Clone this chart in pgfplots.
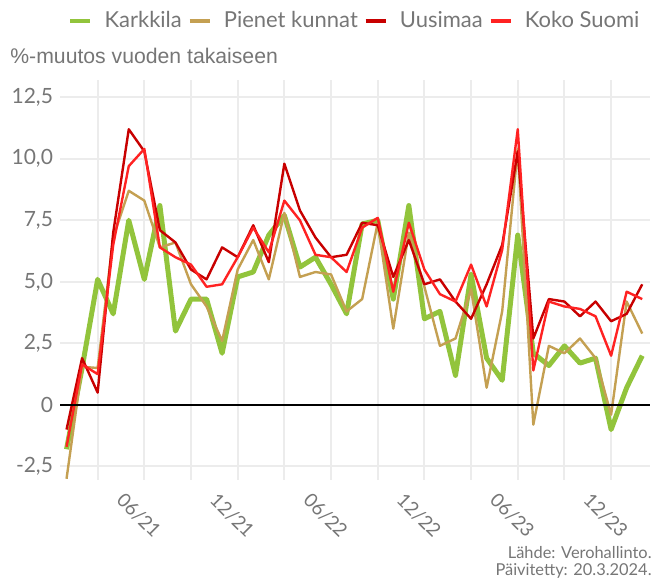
\documentclass[border=0pt]{standalone}
\usepackage{fontspec}
\setmainfont{Lato}
\newfontfamily\titlefont{Liberation Sans}
\usepackage{pgfplots}
\pgfplotsset{compat=1.18}
\usepackage{pgfplotstable}

\definecolor{karkkila}{RGB}{146,196,60}
\definecolor{pienet}{RGB}{196,160,82}
\definecolor{uusimaa}{RGB}{200,0,0}
\definecolor{suomi}{RGB}{255,34,34}
\definecolor{txt}{RGB}{118,118,118}
\definecolor{gridc}{RGB}{236,236,236}

% kuukausi 0 = 01/21, ..., 37 = 02/24
\pgfplotstableread{
i   k     p     u     s
0   -1.8  -3.0  -1.0  -1.7
1   1.5   1.55  1.9   1.65
2   5.1   1.5   0.5   1.25
3   3.7   6.8   7.0   6.5
4   7.5   8.7   11.2  9.7
5   5.1   8.3   10.3  10.4
6   8.1   6.4   7.1   6.4
7   3.0   6.6   6.6   6.0
8   4.3   4.9   5.5   5.7
9   4.3   4.0   5.1   4.8
10  2.1   2.6   6.4   4.9
11  5.2   5.5   6.0   6.0
12  5.4   6.7   7.3   7.2
13  6.9   5.1   5.8   6.2
14  7.7   7.8   9.8   8.3
15  5.6   5.2   7.9   7.5
16  6.0   5.4   6.8   6.1
17  4.9   5.3   6.0   6.0
18  3.7   3.8   6.1   5.4
19  7.35  4.3   7.4   7.2
20  7.5   7.4   7.3   7.6
21  4.3   3.1   5.2   4.6
22  8.1   7.0   6.7   7.4
23  3.5   4.8   4.9   5.5
24  3.8   2.4   5.1   4.5
25  1.2   2.7   4.2   4.2
26  5.3   4.7   3.5   5.7
27  1.9   0.7   4.9   4.0
28  1.0   3.8   6.5   6.3
29  6.9   10.4  10.3  11.2
30  2.1   -0.8  2.7   1.4
31  1.6   2.4   4.3   4.2
32  2.4   2.1   4.2   4.0
33  1.7   2.7   3.6   3.9
34  1.9   1.9   4.2   3.6
35  -1.0  -0.4  3.4   2.0
36  0.7   4.2   3.7   4.6
37  2.0   2.9   4.9   4.3
}\data

\begin{document}
\begin{tikzpicture}
\path[use as bounding box] (-30pt,-49.5pt) rectangle (296.5pt,240pt);
\begin{axis}[
  at={(0,0)}, anchor=south west,
  scale only axis, width=295pt, height=200pt,
  xmin=-0.42, xmax=37.5, ymin=-3.05, ymax=13.2,
  axis line style={draw=none},
  tick style={draw=none},
  xtick={2,5,...,35},
  xticklabels={,06/21,,12/21,,06/22,,12/22,,06/23,,12/23},
  ytick={-2.5,0,2.5,5,7.5,10,12.5},
  yticklabels={{-2,5},0,{2,5},{5,0},{7,5},{10,0},{12,5}},
  grid=major, grid style={line width=1pt, gridc},
  yticklabel style={font=\fontsize{10.5}{12}\selectfont, text=txt},
  xticklabel style={font=\fontsize{9.5}{11}\selectfont, text=txt,
    anchor=center, xshift=-2.75pt, yshift=-17.75pt, rotate=-45},
  legend columns=4,
  legend style={at={(0.993,1.148)}, anchor=east, draw=none, fill=none,
    font=\fontsize{11}{12}\selectfont, text=txt,
    nodes={inner sep=0pt},
    /tikz/every even column/.append style={column sep=2.8pt},
    /tikz/every odd column/.append style={column sep=6pt}},
  legend image code/.code={\draw[#1, line width=2.2pt] (0pt,0pt) -- (10pt,0pt);},
]
\addplot[karkkila, line width=2.5pt, line join=round] table[x=i, y=k] {\data};
\addplot[pienet, line width=1.2pt, line join=round] table[x=i, y=p] {\data};
\addplot[uusimaa, line width=1.2pt, line join=round] table[x=i, y=u] {\data};
\addplot[suomi, line width=1.2pt, line join=round] table[x=i, y=s] {\data};
\draw[black, line width=0.6pt] (axis cs:-0.42,0) -- (axis cs:37.5,0);
\legend{Karkkila, Pienet kunnat, Uusimaa, Koko Suomi}
\end{axis}
\node[anchor=west, inner sep=0pt, text=txt, font=\titlefont\fontsize{10.6}{12}\selectfont]
  at (-25pt,212pt) {\%-muutos vuoden takaiseen};
\node[anchor=south east, inner sep=0pt, align=right, text=txt,
  font=\fontsize{8.2}{8.8}\selectfont] at (296pt,-49.5pt)
  {Lähde: Verohallinto.\\Päivitetty: 20.3.2024.};
\end{tikzpicture}
\end{document}
